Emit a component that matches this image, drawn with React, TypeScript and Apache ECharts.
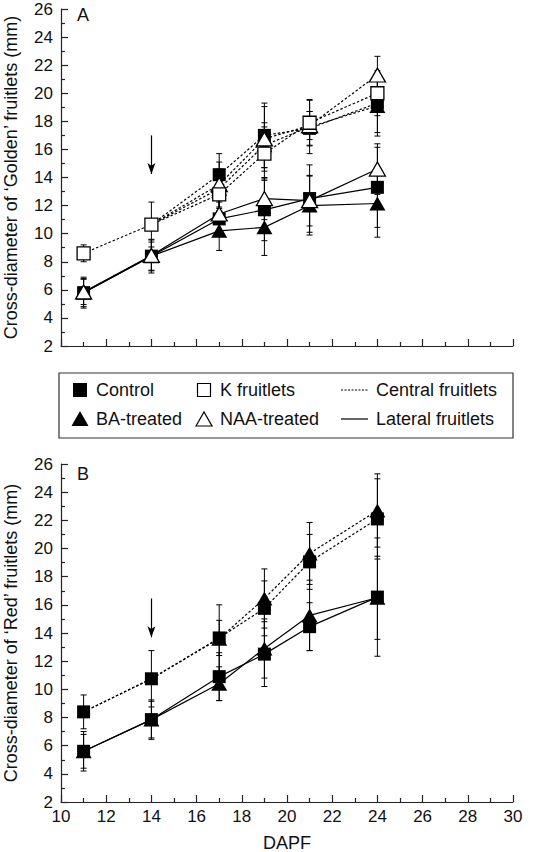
import React, { useEffect, useRef } from "react";
import * as echarts from "echarts";

const DAPF = [11, 14, 17, 19, 21, 24];

// Panel A – 'Golden'
const goldenK = [8.6, 10.65, 12.8, 15.7, 17.9, 20.0];
const goldenKErr = [0.6, 1.6, 1.2, 1.9, 1.65, 1.6];
const goldenCtrlC = [null, 10.65, 14.2, 17.0, 17.5, 19.3];
const goldenCtrlCErr = [null, null, 1.5, 2.3, 1.2, 2.1];
const goldenBAC = [null, 10.65, 13.2, 16.3, 17.6, 19.1];
const goldenBACErr = [null, null, 1.4, 1.6, 1.9, 2.15];
const goldenNAAC = [null, 10.65, 13.5, 16.75, 17.7, 21.3];
const goldenNAACErr = [null, null, 1.6, 2.3, 1.0, 1.33];
const goldenCtrlL = [5.8, 8.4, 11.05, 11.7, 12.5, 13.3];
const goldenCtrlLErr = [1.1, 1.2, 1.2, 2.2, 2.4, 2.85];
const goldenBAL = [5.8, 8.4, 10.2, 10.45, 12.0, 12.15];
const goldenBALErr = [1.0, 1.0, 1.4, 2.0, 2.1, 2.4];
const goldenNAAL = [5.85, 8.45, 11.4, 12.5, 12.35, 14.6];
const goldenNAALErr = [0.9, 1.1, 1.3, 1.5, 1.8, 1.8];

// Panel B – 'Red'
const redCtrlC = [8.4, 10.75, 13.65, 15.75, 19.05, 22.1];
const redCtrlCErr = [1.2, 2.0, 1.25, 1.95, 1.95, 2.85];
const redBAC = [8.4, 10.75, 13.6, 16.45, 19.65, 22.7];
const redBACErr = [null, null, 2.4, 2.1, 2.2, 2.6];
const redCtrlL = [5.6, 7.85, 10.9, 12.5, 14.45, 16.55];
const redCtrlLErr = [1.4, 1.4, 1.7, 2.3, 1.7, 4.2];
const redBAL = [5.6, 7.85, 10.4, 12.9, 15.25, 16.5];
const redBALErr = [1.2, 1.3, 1.2, 2.1, 2.5, 2.95];

// Treatment arrows (application at 14 DAPF)
const arrowA = [14, 17.0, 14.25];
const arrowB = [14, 16.45, 13.7];

const yTicks = { min: 2, max: 26, interval: 2 };
const xTicks = { min: 10, max: 30, interval: 2 };

const FONT = "'Liberation Sans', Arial, Helvetica, sans-serif";
const SQ = 13;
const TRI = [16, 14];

type Spec = {
  name: string;
  panel: number;
  ys: (number | null)[];
  errs: (number | null)[];
  symbol: "rect" | "triangle";
  filled: boolean;
  dotted: boolean;
  hideNoErr?: boolean;
};

function lineSeries(s: Spec) {
  const data: any[] = [];
  DAPF.forEach((x, i) => {
    const y = s.ys[i];
    if (y == null) return;
    const item: any = { value: [x, y] };
    if (s.hideNoErr && s.errs[i] == null) item.symbol = "none";
    data.push(item);
  });
  return {
    type: "line",
    name: s.name,
    xAxisIndex: s.panel,
    yAxisIndex: s.panel,
    data,
    symbol: s.symbol,
    symbolSize: s.symbol === "rect" ? SQ : TRI,
    showSymbol: true,
    showAllSymbol: true,
    lineStyle: { color: "#000", width: 1.2, type: s.dotted ? [2.5, 2] : "solid" },
    itemStyle: {
      color: s.filled ? "#000" : "#fff",
      borderColor: "#000",
      borderWidth: s.filled ? 0 : 1.3,
    },
    z: 3,
    silent: true,
  };
}

function errData(list: Spec[], panel: number) {
  const out: number[][] = [];
  list
    .filter((s) => s.panel === panel)
    .forEach((s) => {
      DAPF.forEach((x, i) => {
        const y = s.ys[i];
        const e = s.errs[i];
        if (y == null || e == null) return;
        out.push([x, y - e, y + e]);
      });
    });
  return out;
}

function errSeries(list: Spec[], panel: number) {
  return {
    type: "custom",
    xAxisIndex: panel,
    yAxisIndex: panel,
    data: errData(list, panel),
    encode: { x: 0, y: [1, 2] },
    z: 2,
    silent: true,
    renderItem: (params: any, api: any) => {
      const x = api.value(0);
      const lo = api.coord([x, api.value(1)]);
      const hi = api.coord([x, api.value(2)]);
      const w = 3;
      const st = { stroke: "#000", lineWidth: 1 };
      return {
        type: "group",
        children: [
          { type: "line", shape: { x1: lo[0], y1: lo[1], x2: hi[0], y2: hi[1] }, style: st },
          { type: "line", shape: { x1: lo[0] - w, y1: lo[1], x2: lo[0] + w, y2: lo[1] }, style: st },
          { type: "line", shape: { x1: hi[0] - w, y1: hi[1], x2: hi[0] + w, y2: hi[1] }, style: st },
        ],
      };
    },
  };
}

function arrowSeries(panel: number, a: number[]) {
  return {
    type: "line",
    xAxisIndex: panel,
    yAxisIndex: panel,
    data: [],
    silent: true,
    markLine: {
      silent: true,
      animation: false,
      symbol: ["none", "arrow"],
      symbolSize: [6, 11],
      label: { show: false },
      lineStyle: { color: "#000", width: 1.2, type: "solid" },
      data: [[{ coord: [a[0], a[1]] }, { coord: [a[0], a[2]] }]],
    },
  };
}

function xAxis(panel: number, showLabels: boolean) {
  return {
    type: "value",
    gridIndex: panel,
    ...xTicks,
    axisLine: { show: true, onZero: false, lineStyle: { color: "#222", width: 1.2 } },
    axisTick: { show: true, inside: true, length: 7, lineStyle: { color: "#222", width: 1.2 } },
    minorTick: { show: true, splitNumber: 2, length: 4, lineStyle: { color: "#222", width: 1.2 } },
    splitLine: { show: false },
    axisLabel: {
      show: showLabels,
      color: "#111",
      fontSize: 17,
      fontFamily: FONT,
      margin: 6,
    },
    name: showLabels ? "DAPF" : "",
    nameLocation: "middle",
    nameGap: 32,
    nameTextStyle: { color: "#111", fontSize: 18, fontFamily: FONT },
  };
}

function yAxis(panel: number, name: string) {
  return {
    type: "value",
    gridIndex: panel,
    ...yTicks,
    axisLine: { show: true, onZero: false, lineStyle: { color: "#222", width: 1.2 } },
    axisTick: { show: true, inside: true, length: 7, lineStyle: { color: "#222", width: 1.2 } },
    minorTick: { show: true, splitNumber: 2, length: 4, lineStyle: { color: "#222", width: 1.2 } },
    splitLine: { show: false },
    axisLabel: { color: "#111", fontSize: 17, fontFamily: FONT, margin: 8 },
    name,
    nameLocation: "middle",
    nameRotate: 90,
    nameGap: 41,
    nameTextStyle: { color: "#111", fontSize: 18, fontFamily: FONT },
  };
}

export default function App() {
  const ref = useRef<HTMLDivElement>(null);
  useEffect(() => {
    if (!ref.current) return;
    const chart = echarts.init(ref.current, undefined, { renderer: "svg" });

    const specs: Spec[] = [
      // Panel A, lateral
      { name: "BA lateral", panel: 0, ys: goldenBAL, errs: goldenBALErr, symbol: "triangle", filled: true, dotted: false },
      { name: "Control lateral", panel: 0, ys: goldenCtrlL, errs: goldenCtrlLErr, symbol: "rect", filled: true, dotted: false },
      { name: "NAA lateral", panel: 0, ys: goldenNAAL, errs: goldenNAALErr, symbol: "triangle", filled: false, dotted: false },
      // Panel A, central
      { name: "BA central", panel: 0, ys: goldenBAC, errs: goldenBACErr, symbol: "triangle", filled: true, dotted: true, hideNoErr: true },
      { name: "Control central", panel: 0, ys: goldenCtrlC, errs: goldenCtrlCErr, symbol: "rect", filled: true, dotted: true, hideNoErr: true },
      { name: "NAA central", panel: 0, ys: goldenNAAC, errs: goldenNAACErr, symbol: "triangle", filled: false, dotted: true, hideNoErr: true },
      { name: "K fruitlets", panel: 0, ys: goldenK, errs: goldenKErr, symbol: "rect", filled: false, dotted: true },
      // Panel B
      { name: "BA lateral B", panel: 1, ys: redBAL, errs: redBALErr, symbol: "triangle", filled: true, dotted: false },
      { name: "Control lateral B", panel: 1, ys: redCtrlL, errs: redCtrlLErr, symbol: "rect", filled: true, dotted: false },
      { name: "Control central B", panel: 1, ys: redCtrlC, errs: redCtrlCErr, symbol: "rect", filled: true, dotted: true },
      { name: "BA central B", panel: 1, ys: redBAC, errs: redBACErr, symbol: "triangle", filled: true, dotted: true, hideNoErr: true },
    ];

    const lx = 59, ly = 373, lw = 454, lh = 65;
    const r1 = 390, r2 = 419;
    const c1 = 80, c2 = 204, c3 = 341;
    const txt = (x: number, y: number, t: string) => ({
      type: "text",
      x,
      y,
      style: { text: t, fill: "#111", fontSize: 18, fontFamily: FONT, textVerticalAlign: "middle", textAlign: "left" },
    });

    chart.setOption({
      animation: false,
      backgroundColor: "#fff",
      grid: [
        { left: 61, right: 21, top: 9, height: 337, outerBoundsMode: "none", containLabel: false },
        { left: 61, right: 21, top: 464, height: 338, outerBoundsMode: "none", containLabel: false },
      ],
      xAxis: [xAxis(0, false), xAxis(1, true)],
      yAxis: [
        yAxis(0, "Cross-diameter of \u2018Golden\u2019 fruitlets (mm)"),
        yAxis(1, "Cross-diameter of \u2018Red\u2019 fruitlets (mm)"),
      ],
      series: [
        errSeries(specs, 0),
        errSeries(specs, 1),
        ...specs.map(lineSeries),
        arrowSeries(0, arrowA),
        arrowSeries(1, arrowB),
      ],
      graphic: [
        { type: "text", x: 77, y: 15, style: { text: "A", fill: "#111", fontSize: 18, fontFamily: FONT, textVerticalAlign: "middle" } },
        { type: "text", x: 77, y: 474, style: { text: "B", fill: "#111", fontSize: 18, fontFamily: FONT, textVerticalAlign: "middle" } },
        { type: "rect", shape: { x: lx, y: ly, width: lw, height: lh }, style: { fill: "#fff", stroke: "#333", lineWidth: 1.2 } },
        { type: "rect", shape: { x: c1 - 7, y: r1 - 7, width: 14, height: 14 }, style: { fill: "#000" } },
        txt(96, r1, "Control"),
        { type: "polygon", shape: { points: [[c1 - 8.5, r2 + 7], [c1, r2 - 8], [c1 + 8.5, r2 + 7]] }, style: { fill: "#000" } },
        txt(96, r2, "BA-treated"),
        { type: "rect", shape: { x: c2 - 6.5, y: r1 - 6.5, width: 13, height: 13 }, style: { fill: "#fff", stroke: "#000", lineWidth: 1.2 } },
        txt(220, r1, "K fruitlets"),
        { type: "polygon", shape: { points: [[c2 - 8, r2 + 7], [c2, r2 - 7], [c2 + 8, r2 + 7]] }, style: { fill: "#fff", stroke: "#000", lineWidth: 1.2 } },
        txt(220, r2, "NAA-treated"),
        { type: "line", shape: { x1: c3, y1: r1, x2: c3 + 27, y2: r1 }, style: { stroke: "#000", lineWidth: 1.2, lineDash: [2, 1.5] } },
        txt(376, r1, "Central fruitlets"),
        { type: "line", shape: { x1: c3, y1: r2, x2: c3 + 27, y2: r2 }, style: { stroke: "#000", lineWidth: 1.2 } },
        txt(376, r2, "Lateral fruitlets"),
      ],
    });
    return () => chart.dispose();
  }, []);
  return (
    <div
      ref={ref}
      style={{ position: "absolute", left: 0, top: 0, width: 534, height: 852, background: "#fff" }}
    />
  );
}
